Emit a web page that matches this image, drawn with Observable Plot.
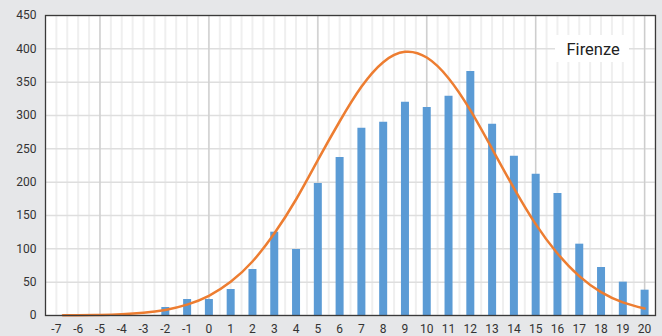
<!DOCTYPE html>
<html><head><meta charset="utf-8">
<script src="https://cdn.jsdelivr.net/npm/d3@7"></script>
<script src="https://cdn.jsdelivr.net/npm/@observablehq/plot@0.6"></script>
<style>html,body{margin:0;padding:0;background:#e6e7e9;} svg{display:block;}</style>
</head><body><div id="chart"></div>
<script>
// Histogram bins (x) and counts
const binX = [-2,-1,0,1,2,3,4,5,6,7,8,9,10,11,12,13,14,15,16,17,18,19,20];
const counts = [12,24,24,39,69,125,99,198,237,281,290,320,312,329,366,287,239,212,183,107,72,50,38];
// Fitted curve points
const curveX = [-6.7,-6,-5,-4,-3,-2,-1,0,1,2,3,4,5,6,7,8,9,10,11,12,13,14,15,16,17,18,19,20];
const curveY = [0.2,0.3,0.8,1.9,4.1,8.4,16.3,29.5,50.5,81,123,174,233,291,343,380,395.5,387,356,308,250,191,137,93,59,35,19.7,10.4];
const seriesName = "Firenze";
const xTicks = [-7,-6,-5,-4,-3,-2,-1,0,1,2,3,4,5,6,7,8,9,10,11,12,13,14,15,16,17,18,19,20];
const yTicks = [0,50,100,150,200,250,300,350,400,450];
const majorX = [-5,0,5,10,15,20];

const bars = binX.map((x,i)=>({x, n: counts[i]}));
const curve = curveX.map((x,i)=>({x, y: curveY[i]}));
const minorX = d3.range(-7, 20.51, 0.5);

const chart = Plot.plot({
  width: 662, height: 336,
  marginTop: 15, marginBottom: 21, marginLeft: 45, marginRight: 7,
  style: {background: "#e6e7e9", fontFamily: "Roboto, sans-serif", fontSize: "12px", color: "#333"},
  x: {domain: [-7.5, 20.5], label: null},
  y: {domain: [0, 450], label: null},
  marks: [
    Plot.frame({fill: "white", stroke: null}),
    Plot.gridX(minorX, {stroke: "#efefef", strokeOpacity: 1, strokeWidth: 2}),
    Plot.gridY(yTicks, {stroke: "#dedede", strokeOpacity: 1, strokeWidth: 1.5}),
    Plot.gridX(majorX, {stroke: "#cdcdcd", strokeOpacity: 1, strokeWidth: 1.3}),
    Plot.ruleX(bars, {x: "x", y1: 0, y2: "n", stroke: "#5b9bd5", strokeWidth: 8}),
    Plot.line(curve, {x: "x", y: "y", stroke: "#ed7d31", strokeWidth: 2.5, curve: "natural"}),
    Plot.frame({stroke: "#3a3a3a", strokeWidth: 1.3}),
    Plot.axisX(xTicks, {tickSize: 0, tickPadding: 9, fontSize: 12, fill: "#333", tickFormat: d => String(d)}),
    Plot.axisY(yTicks, {tickSize: 0, tickPadding: 9, fontSize: 12, fill: "#333", tickFormat: d => String(d)})
  ]
});
document.getElementById("chart").appendChild(chart);

// Legend box
const svg = d3.select(chart);
const lg = svg.append("g");
lg.append("rect").attr("x", 555).attr("y", 35).attr("width", 74).attr("height", 27).attr("fill", "white");
lg.append("text").attr("x", 566.5).attr("y", 55).attr("text-anchor", "start")
  .attr("font-size", 16.5).attr("font-family", "Roboto, sans-serif")
  .attr("fill", "#222").text(seriesName);
</script>
</body></html>
